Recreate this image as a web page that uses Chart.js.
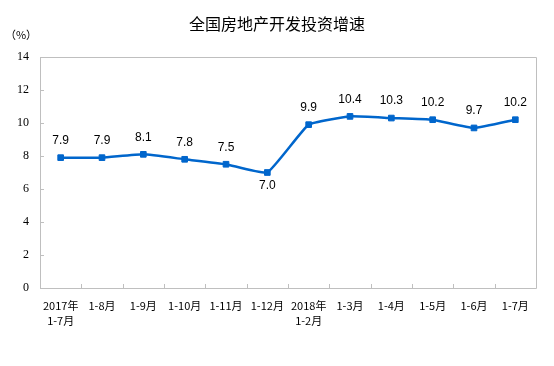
<!DOCTYPE html>
<html>
<head>
<meta charset="utf-8">
<script src="https://cdn.jsdelivr.net/npm/chart.js@4"></script>
<style>
  html, body { margin: 0; padding: 0; background: #fff; }
  #wrap { width: 554px; height: 366px; }
</style>
</head>
<body>
<div id="wrap"><canvas id="myChart" width="554" height="366"></canvas></div>
<script>
var periods = [["2017年", "1-7月"], "1-8月", "1-9月", "1-10月", "1-11月", "1-12月",
               ["2018年", "1-2月"], "1-3月", "1-4月", "1-5月", "1-6月", "1-7月"];
var growth = [7.9, 7.9, 8.1, 7.8, 7.5, 7.0, 9.9, 10.4, 10.3, 10.2, 9.7, 10.2];
var yTicks = [0, 2, 4, 6, 8, 10, 12, 14];
var chartTitle = "全国房地产开发投资增速";
var unitText = "（%）";

var axisGray = "#BFBFBF";
var lineBlue = "#0066CC";

// frame, inward ticks, title, unit and point labels
var decor = {
  id: "decor",
  beforeDatasetsDraw: function(chart) {
    var ctx = chart.ctx, a = chart.chartArea;
    var xs = chart.scales.x, ys = chart.scales.y;
    ctx.save();
    ctx.strokeStyle = axisGray;
    ctx.lineWidth = 1;
    ctx.beginPath();
    ctx.rect(Math.round(a.left) + 0.5, Math.round(a.top) + 0.5,
             Math.round(a.right - a.left), Math.round(a.bottom - a.top));
    ctx.stroke();
    ctx.beginPath();
    yTicks.forEach(function(v) {
      var y = Math.round(ys.getPixelForValue(v)) + 0.5;
      ctx.moveTo(a.left, y);
      ctx.lineTo(a.left + 4, y);
    });
    var step = xs.getPixelForTick(1) - xs.getPixelForTick(0);
    for (var i = 1; i < periods.length; i++) {
      var x = Math.round(xs.getPixelForTick(i) - step / 2) + 0.5;
      ctx.moveTo(x, a.bottom);
      ctx.lineTo(x, a.bottom - 4);
    }
    ctx.stroke();
    ctx.restore();
  },
  afterDatasetsDraw: function(chart) {
    var ctx = chart.ctx;
    ctx.save();
    ctx.fillStyle = "#000";
    ctx.textAlign = "center";
    ctx.textBaseline = "middle";
    ctx.font = "16px 'Noto Sans CJK SC'";
    ctx.fillText(chartTitle, 277, 24);
    ctx.font = "11px 'Noto Sans CJK SC'";
    ctx.fillText(unitText, 21, 35);
    ctx.font = "12px 'Liberation Sans'";
    var pts = chart.getDatasetMeta(0).data;
    pts.forEach(function(p, i) {
      var v = growth[i];
      var below = i === 5;
      ctx.fillText(v.toFixed(1), p.x, below ? p.y + 13 : p.y - 17);
    });
    ctx.restore();
  }
};

new Chart("myChart", {
  type: "line",
  data: {
    labels: periods,
    datasets: [{
      data: growth,
      borderColor: lineBlue,
      backgroundColor: lineBlue,
      borderWidth: 2.5,
      tension: 0.12,
      pointStyle: "rect",
      pointRadius: 4,
      pointBorderWidth: 1,
      pointHoverRadius: 4
    }]
  },
  options: {
    responsive: false,
    animation: false,
    layout: { padding: { top: 57, right: 18, left: 0, bottom: 0 } },
    plugins: { legend: { display: false }, tooltip: { enabled: false } },
    scales: {
      x: {
        offset: true,
        grid: { display: false, drawTicks: false },
        border: { display: false },
        afterFit: function(s) { s.height = 78; },
        ticks: {
          padding: 10,
          maxRotation: 0,
          autoSkip: false,
          color: "#000",
          font: { family: "'Noto Sans CJK SC'", size: 11, lineHeight: 1.4 }
        }
      },
      y: {
        min: 0,
        max: 14,
        grid: { display: false, drawTicks: false },
        border: { display: false },
        afterFit: function(s) { s.width = 40; },
        afterBuildTicks: function(s) { s.ticks = yTicks.map(function(v) { return { value: v }; }); },
        ticks: {
          padding: 11,
          color: "#000",
          font: { family: "'Liberation Serif'", size: 12 }
        }
      }
    }
  },
  plugins: [decor]
});
</script>
</body>
</html>
